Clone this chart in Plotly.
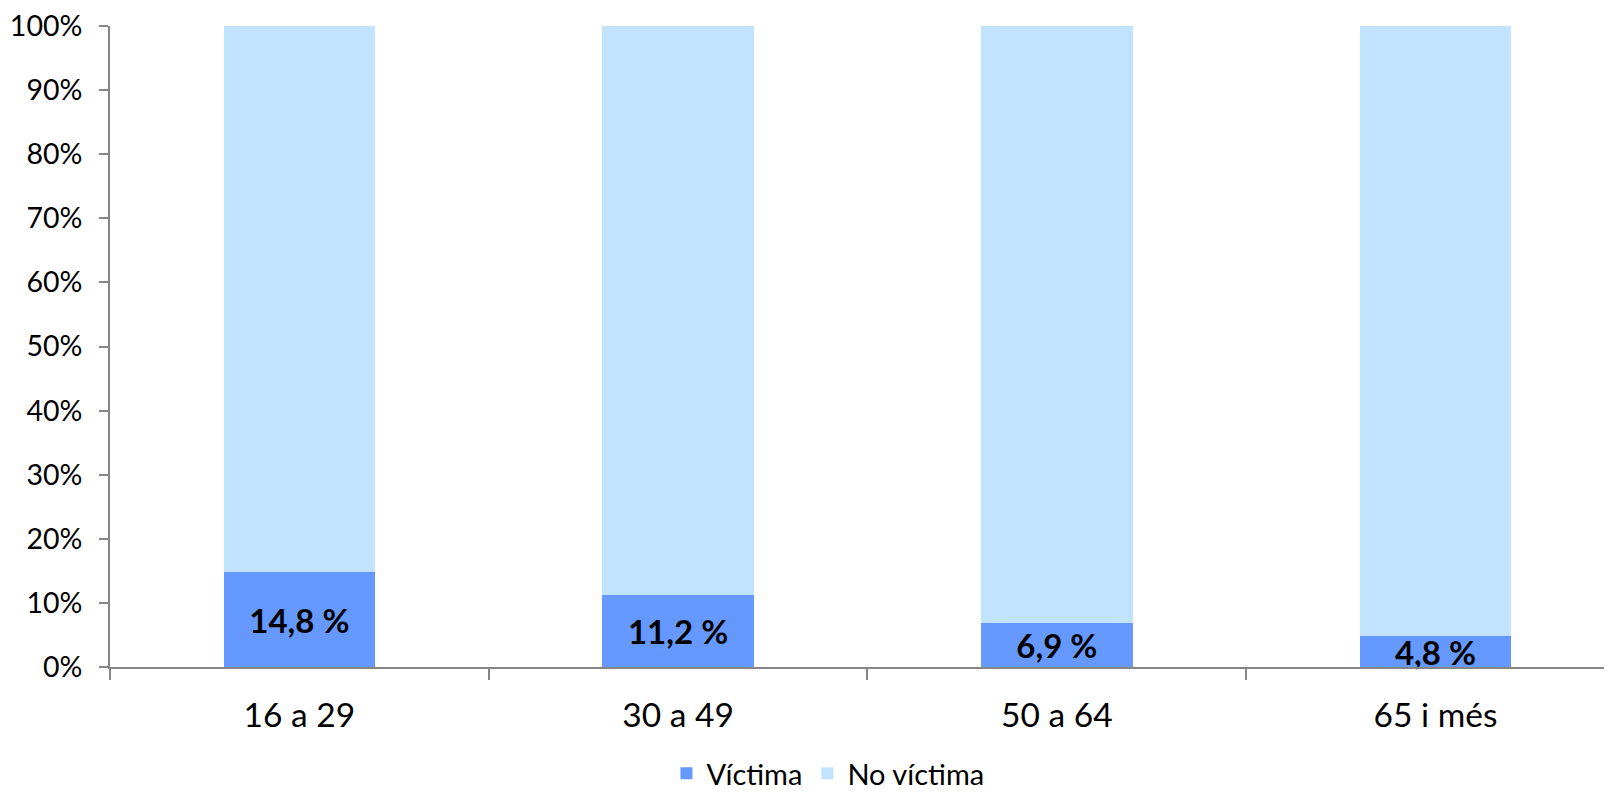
import plotly.graph_objects as go

categories = ["16 a 29", "30 a 49", "50 a 64", "65 i més"]
victima = [14.8, 11.2, 6.9, 4.8]
no_victima = [85.2, 88.8, 93.1, 95.2]
victima_labels = ["14,8 %", "11,2 %", "6,9 %", "4,8 %"]
y_ticks = [0, 10, 20, 30, 40, 50, 60, 70, 80, 90, 100]
y_tick_labels = [f"{v}%" for v in y_ticks]

FONT = "Lato"

fig = go.Figure()
fig.add_trace(go.Bar(
    x=categories, y=victima, name="Víctima",
    marker=dict(color="#6699FF", line=dict(width=0)),
    width=0.4,
    text=victima_labels, textposition="inside", insidetextanchor="middle",
    constraintext="none", cliponaxis=False,
    textfont=dict(family=FONT, size=33, color="black", weight="bold"),
))
fig.add_trace(go.Bar(
    x=categories, y=no_victima, name="No víctima",
    marker=dict(color="#C1E3FE", line=dict(width=0)),
    width=0.4,
))

# page body has an 8px default margin, so the figure is offset by 8px
fig.update_layout(
    barmode="stack",
    width=1604, height=784,
    margin=dict(l=102, r=0, t=18, b=125, autoexpand=False),
    paper_bgcolor="white", plot_bgcolor="white",
    font=dict(family=FONT, color="black"),
    showlegend=True,
    legend=dict(
        orientation="h", xref="paper", yref="paper",
        x=0.478, xanchor="center", y=-0.166, yanchor="middle",
        font=dict(family=FONT, size=29, color="black"),
        traceorder="normal", itemwidth=30,
    ),
    bargap=0.6,
)
fig.update_xaxes(
    type="category", range=[-0.5, 3.466], automargin=False,
    showline=True, linecolor="#868686", linewidth=2,
    ticks="outside", tickson="boundaries", ticklen=11, tickcolor="#868686", tickwidth=2,
    tickfont=dict(family=FONT, size=33.5, color="black"),
    ticklabelstandoff=18, ticklabeloverflow="allow",
    showgrid=False, zeroline=False,
)
fig.update_yaxes(
    range=[0, 100], tickvals=y_ticks, ticktext=y_tick_labels, automargin=False,
    showline=True, linecolor="#868686", linewidth=2,
    ticks="outside", ticklen=9, tickcolor="#868686", tickwidth=2,
    tickfont=dict(family=FONT, size=28.5, color="black"),
    ticklabelstandoff=11, ticklabeloverflow="allow",
    showgrid=False, zeroline=False,
)

fig.write_html("out.html")
